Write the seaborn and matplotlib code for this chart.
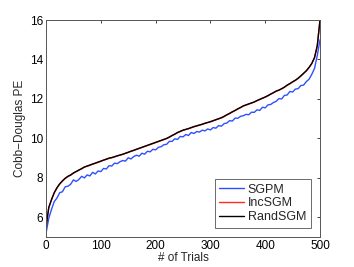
import numpy as np
import pandas as pd
import seaborn as sns
import matplotlib
matplotlib.use('Agg')
import matplotlib.pyplot as plt

trials = np.arange(0, 501, 5)

sgpm = [5.2, 5.95, 6.4, 6.8, 6.98, 7.25, 7.3, 7.55, 7.58, 7.68,
        7.9, 7.82, 7.92, 8.08, 8.0, 8.15, 8.1, 8.28, 8.2, 8.35,
        8.32, 8.48, 8.45, 8.62, 8.6, 8.75, 8.72, 8.82, 8.88, 8.85,
        9.02, 8.96, 9.08, 9.15, 9.1, 9.25, 9.2, 9.35, 9.32, 9.45,
        9.42, 9.55, 9.58, 9.68, 9.7, 9.85, 9.85, 9.98, 9.95, 10.1,
        10.08, 10.2, 10.15, 10.3, 10.25, 10.35, 10.32, 10.42, 10.38, 10.48,
        10.43, 10.55, 10.52, 10.65, 10.62, 10.75, 10.78, 10.9, 10.88, 11.03,
        11.02, 11.12, 11.15, 11.22, 11.2, 11.33, 11.32, 11.45, 11.42, 11.58,
        11.55, 11.7, 11.72, 11.82, 11.88, 12.02, 12.0, 12.18, 12.2, 12.38,
        12.35, 12.5, 12.52, 12.68, 12.7, 12.88, 13.0, 13.25, 13.55, 14.2,
        15.0]

rand_sgm = [5.5, 6.5, 6.9, 7.25, 7.5, 7.7, 7.85, 7.98, 8.08, 8.15,
            8.25, 8.32, 8.4, 8.47, 8.55, 8.6, 8.65, 8.7, 8.75, 8.8,
            8.85, 8.9, 8.95, 9.0, 9.03, 9.07, 9.12, 9.16, 9.2, 9.25,
            9.3, 9.35, 9.4, 9.45, 9.5, 9.55, 9.6, 9.65, 9.7, 9.75,
            9.8, 9.85, 9.9, 9.95, 10.0, 10.07, 10.15, 10.22, 10.3, 10.36,
            10.42, 10.46, 10.5, 10.55, 10.6, 10.64, 10.68, 10.72, 10.77, 10.81,
            10.85, 10.9, 10.95, 11.0, 11.05, 11.12, 11.2, 11.27, 11.35, 11.42,
            11.5, 11.57, 11.65, 11.7, 11.75, 11.8, 11.85, 11.92, 11.98, 12.04,
            12.1, 12.17, 12.25, 12.32, 12.4, 12.45, 12.52, 12.6, 12.7, 12.78,
            12.87, 12.95, 13.05, 13.17, 13.3, 13.43, 13.6, 13.8, 14.1, 14.7,
            16.0]

inc_sgm = [5.5, 6.49, 6.89, 7.24, 7.5, 7.69, 7.84, 7.98, 8.07, 8.14,
           8.24, 8.32, 8.39, 8.46, 8.55, 8.59, 8.64, 8.7, 8.74, 8.79,
           8.84, 8.9, 8.94, 8.99, 9.02, 9.07, 9.11, 9.15, 9.19, 9.24,
           9.29, 9.35, 9.39, 9.44, 9.49, 9.54, 9.59, 9.64, 9.69, 9.74,
           9.79, 9.84, 9.89, 9.94, 9.99, 10.06, 10.14, 10.21, 10.29, 10.35,
           10.41, 10.45, 10.49, 10.54, 10.59, 10.63, 10.67, 10.71, 10.76, 10.8,
           10.84, 10.89, 10.94, 10.99, 11.04, 11.11, 11.19, 11.26, 11.34, 11.41,
           11.49, 11.56, 11.64, 11.69, 11.74, 11.79, 11.84, 11.91, 11.97, 12.03,
           12.09, 12.16, 12.24, 12.31, 12.39, 12.44, 12.51, 12.59, 12.69, 12.77,
           12.86, 12.94, 13.04, 13.16, 13.29, 13.42, 13.59, 13.79, 14.09, 14.69,
           16.0]

sns.set_style('white')
plt.rcParams['font.family'] = ['Liberation Sans', 'DejaVu Sans']

fig = plt.figure(figsize=(3.54, 2.67), dpi=100)
ax = fig.add_axes([0.130, 0.112, 0.774, 0.813])

sns.lineplot(x=trials, y=sgpm, ax=ax, color='#2f4fff', lw=1.0, label='SGPM')
sns.lineplot(x=trials, y=inc_sgm, ax=ax, color='#ff2a2a', lw=1.0, label='IncSGM')
sns.lineplot(x=trials, y=rand_sgm, ax=ax, color='black', lw=1.0, label='RandSGM')

ax.set_xlim(0, 500)
ax.set_ylim(5, 16)
ax.set_xticks(range(0, 501, 100))
ax.set_yticks(range(6, 17, 2))
ax.tick_params(direction='in', length=2.5, width=0.6, labelsize=8.5,
               top=True, right=True, colors='#222222', pad=2)
ax.tick_params(labelcolor='black')
for s in ax.spines.values():
    s.set_color('#555555')
    s.set_linewidth(0.7)
ax.set_xlabel('# of Trials', fontsize=8.5, labelpad=0)
ax.set_ylabel('Cobb\u2212Douglas PE', fontsize=8.5, labelpad=3)

leg = ax.legend(loc='lower right', fontsize=9, frameon=True, fancybox=False,
                handlelength=2.0, handletextpad=0.3, borderpad=0.35,
                labelspacing=0.15, borderaxespad=0.75)
leg.get_frame().set_edgecolor('#444444')
leg.get_frame().set_linewidth(0.7)

fig.savefig('out.png', dpi=100)
plt.close(fig)
